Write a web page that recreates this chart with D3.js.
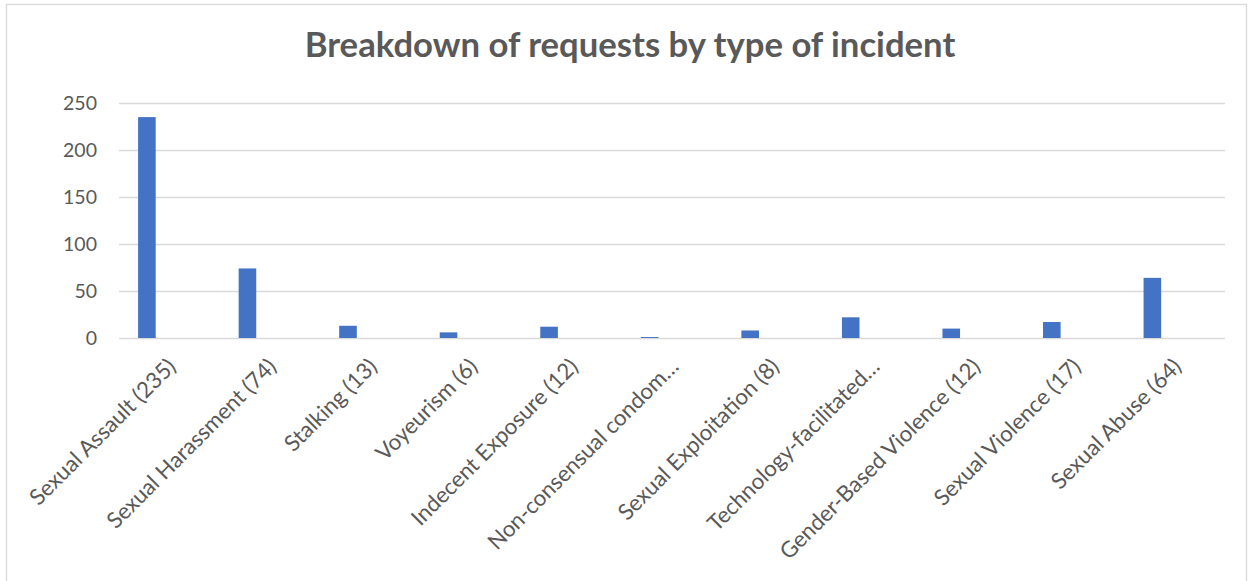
<!DOCTYPE html>
<html>
<head>
<meta charset="utf-8">
<script src="https://cdn.jsdelivr.net/npm/d3@7"></script>
<style>
  body { margin: 0; background: #fff; }
  svg { display: block; font-family: Lato, "Open Sans", sans-serif; }
</style>
</head>
<body>
<svg width="1253" height="581"></svg>
<script>
var categories = [
  "Sexual Assault (235)",
  "Sexual Harassment (74)",
  "Stalking (13)",
  "Voyeurism (6)",
  "Indecent Exposure (12)",
  "Non-consensual condom…",
  "Sexual Exploitation (8)",
  "Technology-facilitated…",
  "Gender-Based Violence (12)",
  "Sexual Violence (17)",
  "Sexual Abuse (64)"
];
var counts = [235, 74, 13, 6, 12, 1, 8, 22, 10, 17, 64];
var yTicks = [0, 50, 100, 150, 200, 250];
var title = "Breakdown of requests by type of incident";

var data = categories.map(function(c, i) { return {cat: c, value: counts[i]}; });

var svg = d3.select("svg"),
    margin = {top: 103, right: 28, bottom: 243, left: 119},
    width = +svg.attr("width"),
    height = +svg.attr("height");

// chart frame (bottom edge falls outside the picture)
svg.append("rect")
    .attr("x", 6.5).attr("y", 4.5)
    .attr("width", 1240).attr("height", 580)
    .attr("fill", "#fff")
    .attr("stroke", "#d9d9d9")
    .attr("stroke-width", 1.3);

var x = d3.scaleBand()
    .domain(categories)
    .range([margin.left, width - margin.right])
    .padding(0);

var y = d3.scaleLinear()
    .domain([0, 250])
    .range([height - margin.bottom, margin.top]);

// gridlines + y labels
var yAxis = svg.append("g")
    .attr("transform", "translate(" + margin.left + ",0)")
    .call(d3.axisLeft(y).tickValues(yTicks)
      .tickSize(-(width - margin.right - margin.left))
      .tickPadding(22));
yAxis.select(".domain").remove();
yAxis.selectAll(".tick line").attr("stroke", "#d9d9d9").attr("stroke-width", 1.4);
yAxis.selectAll(".tick text")
    .attr("fill", "#595959")
    .style("font-size", "19.5px")
    .style("font-family", "Lato, sans-serif");

// bars
svg.append("g")
    .attr("fill", "#4472c4")
  .selectAll("rect")
  .data(data)
  .enter().append("rect")
    .attr("x", function(d) { return x(d.cat) + x.bandwidth() * 0.19; })
    .attr("width", x.bandwidth() * 0.175)
    .attr("y", function(d) { return y(d.value); })
    .attr("height", function(d) { return y(0) - y(d.value); });

// x labels
var xAxis = svg.append("g")
    .attr("transform", "translate(0," + y(0) + ")")
    .call(d3.axisBottom(x).tickSize(0).tickPadding(0));
xAxis.select(".domain").remove();
var xt = xAxis.selectAll(".tick text")
    .attr("fill", "#595959")
    .style("font-family", "Lato, sans-serif")
    .style("font-size", "19px")
    .attr("text-anchor", "end")
    .attr("dy", 0)
    .attr("y", 0)
    .attr("transform", "translate(8,30) rotate(-45)");

// fit label size to the reference length of the first label
var firstLen = xt.node().getComputedTextLength();
var fs = 19 * 196 / firstLen;
xt.style("font-size", fs + "px");

// title
var t = svg.append("text")
    .attr("x", 630)
    .attr("y", 57)
    .attr("text-anchor", "middle")
    .attr("fill", "#595959")
    .style("font-family", "Lato, sans-serif")
    .style("font-weight", "bold")
    .style("font-size", "30px")
    .text(title);
var tl = t.node().getComputedTextLength();
t.style("font-size", (30 * 651 / tl) + "px");
</script>
</body>
</html>
